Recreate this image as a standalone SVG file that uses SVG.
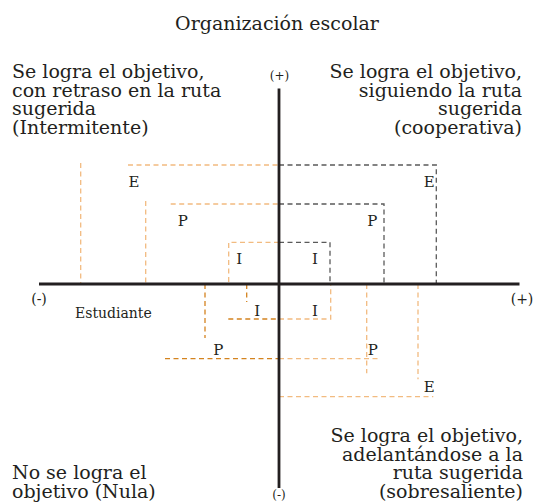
<svg xmlns="http://www.w3.org/2000/svg" width="534" height="503" viewBox="0 0 534 503">
<style>
text{font-family:"DejaVu Serif","Liberation Serif",serif;fill:#231f20}
.big{font-size:19px}
.lab{font-size:15px;text-anchor:middle}
.sm{font-size:12px;text-anchor:middle}
.axis{stroke:#231f20;stroke-width:2.8;fill:none}
.d{fill:none;stroke-width:1.3;stroke-dasharray:5 3.5}
.lo{stroke:#f2bb80}
.dk{stroke:#d4831f}
.gr{stroke:#5a5a5a}
.r{text-anchor:end}
</style>
<rect width="534" height="503" fill="#fff"/>
<g id="connectors">
<g id="upper-left">
<path class="d lo" d="M80.7 163V284M128 165H279M145.7 201V284M170.7 204H279M279 242.3H228.7V284"/>
</g>
<g id="upper-right">
<path class="d gr" d="M279 165H436.3V284M279 204H384V284M279 242.3H330V284"/>
</g>
<g id="lower-left">
<path class="d dk" d="M205 284V338M246.7 284V302M228.3 319H279M165 358.7H279"/>
</g>
<g id="lower-right">
<path class="d lo" d="M279 319H330.7V284M279 358.7H379M366.7 284V373.3M418 284V379.3M279 396.7H433.3"/>
</g>
<g id="axes">
<path class="axis" d="M39 284H519.5M279 88.5V488"/>
</g>
</g>
<g id="title"><text class="big" x="277" y="30" text-anchor="middle">Organización escolar</text></g>
<g id="q-top-left"><text class="big" x="12"><tspan x="12" y="78">Se logra el objetivo,</tspan><tspan x="12" y="96.5">con retraso en la ruta</tspan><tspan x="12" y="115">sugerida</tspan><tspan x="12" y="133.5">(Intermitente)</tspan></text></g>
<g id="q-top-right"><text class="big r"><tspan x="522" y="78">Se logra el objetivo,</tspan><tspan x="522" y="96.5">siguiendo la ruta</tspan><tspan x="522" y="115">sugerida</tspan><tspan x="522" y="133.5">(cooperativa)</tspan></text></g>
<g id="q-bottom-right"><text class="big r"><tspan x="523" y="442">Se logra el objetivo,</tspan><tspan x="523" y="460.5">adelantándose a la</tspan><tspan x="523" y="479">ruta sugerida</tspan><tspan x="523" y="497.5">(sobresaliente)</tspan></text></g>
<g id="q-bottom-left"><text class="big"><tspan x="12" y="479">No se logra el</tspan><tspan x="12" y="497.5">objetivo (Nula)</tspan></text></g>
<g id="axis-labels">
<text class="sm" x="279.5" y="80">(+)</text>
<text class="sm" x="279" y="499">(-)</text>
<text class="sm" x="39" y="304" style="font-size:14px">(-)</text>
<text class="sm" x="522" y="304" style="font-size:14px">(+)</text>
<text x="75" y="318" style="font-size:14px">Estudiante</text>
</g>
<g id="levels">
<text class="lab" x="134" y="187">E</text>
<text class="lab" x="182.7" y="226">P</text>
<text class="lab" x="239.3" y="264">I</text>
<text class="lab" x="315" y="264">I</text>
<text class="lab" x="372.3" y="226">P</text>
<text class="lab" x="429.3" y="187">E</text>
<text class="lab" x="257.3" y="316">I</text>
<text class="lab" x="218.3" y="355">P</text>
<text class="lab" x="315" y="316">I</text>
<text class="lab" x="372.7" y="355">P</text>
<text class="lab" x="429.3" y="391.7">E</text>
</g>
</svg>
